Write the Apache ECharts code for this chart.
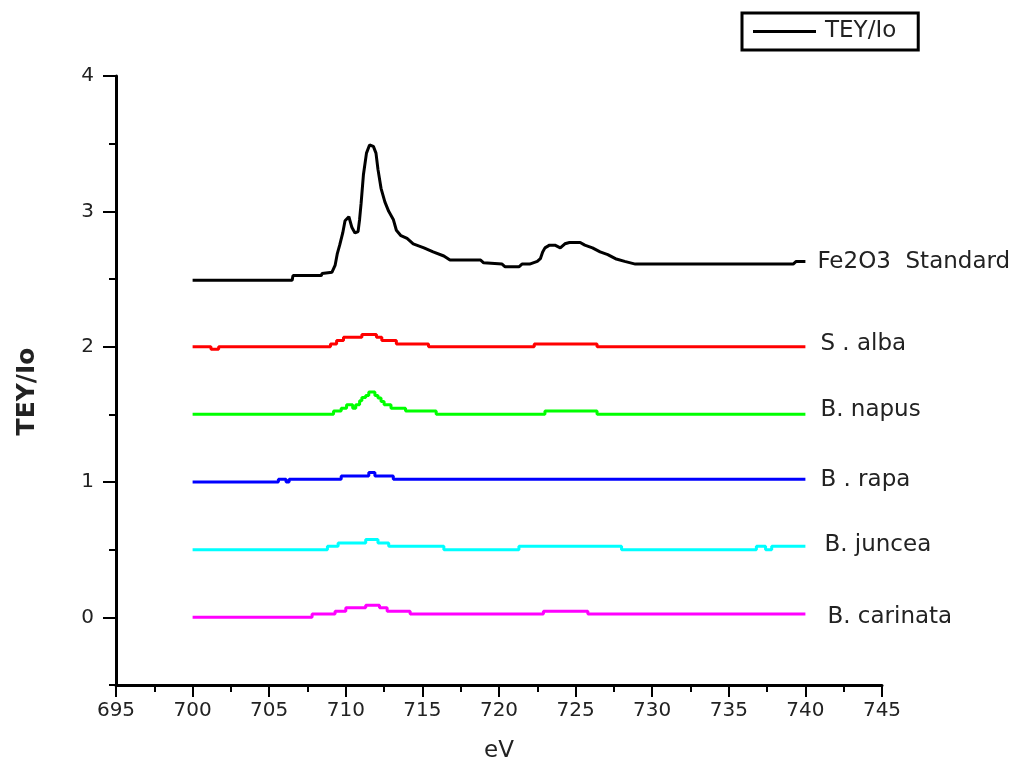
<!DOCTYPE html>
<html>
<head>
<meta charset="utf-8">
<script src="https://cdn.jsdelivr.net/npm/echarts@6/dist/echarts.min.js"></script>
<style>
  html, body { margin: 0; padding: 0; background: #fff; }
  #chart { width: 1032px; height: 768px; }
</style>
</head>
<body>
<div id="chart"></div>
<script>
// Fe L-edge TEY/Io spectra, [eV, TEY/Io]
const fe2o3 = [
  [700, 2.49], [706.5, 2.49], [706.55, 2.525], [708.4, 2.525], [708.45, 2.54], [709.1, 2.55],
  [709.3, 2.6], [709.45, 2.69], [709.6, 2.75], [709.8, 2.84], [709.95, 2.93], [710.2, 2.96],
  [710.4, 2.88], [710.6, 2.84], [710.8, 2.85], [710.9, 2.94], [711.0, 3.06], [711.15, 3.27],
  [711.35, 3.43], [711.55, 3.49], [711.8, 3.48], [711.97, 3.43], [712.1, 3.31], [712.3, 3.17],
  [712.55, 3.07], [712.8, 3.0], [713.1, 2.94], [713.3, 2.86], [713.6, 2.82], [714.0, 2.80],
  [714.4, 2.76], [715.1, 2.73], [715.7, 2.70], [716.4, 2.67], [716.8, 2.64], [718.8, 2.64],
  [719.0, 2.62], [720.2, 2.61], [720.4, 2.59], [721.3, 2.59], [721.5, 2.61], [722.0, 2.61],
  [722.5, 2.63], [722.7, 2.65], [722.85, 2.70], [723.0, 2.73], [723.3, 2.75], [723.65, 2.75],
  [724.0, 2.73], [724.3, 2.76], [724.6, 2.77], [725.3, 2.77], [725.6, 2.75], [726.1, 2.73],
  [726.6, 2.70], [727.1, 2.68], [727.6, 2.65], [728.2, 2.63], [728.9, 2.61], [739.2, 2.61],
  [739.4, 2.63], [740, 2.63]
];
const sAlba = [
  [700, 2.0], [701.2, 1.98], [701.7, 2.0], [709.0, 2.02], [709.4, 2.045], [709.85, 2.07],
  [711.05, 2.09], [712.0, 2.07], [712.35, 2.045], [713.3, 2.02], [715.4, 2.0], [722.3, 2.02],
  [726.4, 2.0], [740, 2.0]
];
const bNapus = [
  [700, 1.5], [709.2, 1.525], [709.7, 1.545], [710.05, 1.57], [710.45, 1.545], [710.65, 1.57],
  [710.9, 1.6], [711.05, 1.625], [711.3, 1.64], [711.5, 1.665], [711.9, 1.64], [712.1, 1.62],
  [712.3, 1.595], [712.5, 1.57], [712.95, 1.545], [713.9, 1.525], [715.9, 1.5], [723.0, 1.525],
  [726.4, 1.5], [740, 1.5]
];
const bRapa = [
  [700, 1.0], [705.6, 1.02], [706.1, 1.0], [706.3, 1.02], [709.7, 1.045], [711.5, 1.07],
  [711.9, 1.045], [713.1, 1.02], [740, 1.02]
];
const bJuncea = [
  [700, 0.5], [708.8, 0.525], [709.5, 0.55], [711.3, 0.575], [712.1, 0.55], [712.8, 0.525],
  [716.4, 0.5], [721.3, 0.525], [728.0, 0.5], [736.8, 0.525], [737.4, 0.5], [737.8, 0.525],
  [740, 0.525]
];
const bCarinata = [
  [700, 0.0], [707.8, 0.025], [709.3, 0.045], [710.0, 0.07], [711.3, 0.09], [712.2, 0.07],
  [712.7, 0.045], [714.2, 0.025], [722.9, 0.045], [725.8, 0.025], [740, 0.025]
];

const seriesNames = ['TEY/Io', 'S . alba', 'B. napus', 'B . rapa', 'B. juncea', 'B. carinata'];
const endLabels = ['Fe2O3  Standard', 'S . alba', 'B. napus', 'B . rapa', 'B. juncea', 'B. carinata'];
const seriesData = [fe2o3, sAlba, bNapus, bRapa, bJuncea, bCarinata];
const seriesColors = ['#000000', '#ff0000', '#00ff00', '#0000ff', '#00ffff', '#ff00ff'];
const yTickValues = [0, 1, 2, 3, 4];

const FONT = 'DejaVu Sans';
const TEXT = '#222';

// horizontal distance / vertical nudge of each end label
const labelDist = [12, 15, 15, 15, 19, 22];
const labelNudge = [1, -3, -4, 1, -1, 3];

const chart = echarts.init(document.getElementById('chart'), null, { renderer: 'canvas' });

const series = seriesData.map((d, i) => ({
  name: seriesNames[i],
  type: 'line',
  data: d,
  step: i === 0 ? false : 'end',
  symbol: 'none',
  yAxisIndex: 0,
  lineStyle: { color: seriesColors[i], width: 3 },
  itemStyle: { color: seriesColors[i] },
  endLabel: {
    show: true,
    formatter: endLabels[i],
    distance: labelDist[i],
    offset: [0, labelNudge[i]],
    color: TEXT,
    fontFamily: FONT,
    fontSize: 23
  },
  emphasis: { disabled: true }
}));

chart.setOption({
  animation: false,
  backgroundColor: '#ffffff',
  grid: { left: 116, right: 150, top: 76, bottom: 83 },
  legend: {
    data: ['TEY/Io'],
    icon: 'rect',
    left: 742,
    top: 13,
    padding: [7, 22, 7, 11],
    borderColor: '#000',
    borderWidth: 3,
    itemWidth: 63,
    itemHeight: 3,
    itemGap: 0,
    itemStyle: { color: '#000' },
    textStyle: { color: TEXT, fontFamily: FONT, fontSize: 23, padding: [0, 0, 0, 4] }
  },
  xAxis: {
    type: 'value',
    min: 695,
    max: 745,
    interval: 5,
    name: 'eV',
    nameLocation: 'middle',
    nameGap: 55,
    nameTextStyle: { color: TEXT, fontFamily: FONT, fontSize: 23 },
    axisLine: { onZero: false, lineStyle: { color: '#000', width: 3 } },
    axisTick: { show: true, inside: false, length: 12, lineStyle: { color: '#000', width: 2 } },
    minorTick: { show: true, splitNumber: 2, length: 7, lineStyle: { color: '#000', width: 2 } },
    axisLabel: { color: TEXT, fontFamily: FONT, fontSize: 20, margin: 16 },
    splitLine: { show: false }
  },
  yAxis: [
    {
      type: 'value',
      min: -0.5,
      max: 4,
      interval: 0.5,
      position: 'left',
      name: 'TEY/Io',
      nameLocation: 'middle',
      nameGap: 76,
      nameTextStyle: {
        color: TEXT, fontFamily: FONT, fontSize: 25, fontWeight: 'bold',
        padding: [0, 22, 0, 0]
      },
      axisLine: { onZero: false, lineStyle: { color: '#000', width: 3 } },
      axisTick: { show: true, inside: false, length: 7, lineStyle: { color: '#000', width: 2 } },
      axisLabel: {
        color: TEXT, fontFamily: FONT, fontSize: 20, margin: 22,
        customValues: yTickValues
      },
      splitLine: { show: false }
    },
    {
      type: 'value',
      min: -0.5,
      max: 4,
      interval: 0.5,
      position: 'left',
      axisLine: { show: false },
      axisTick: {
        show: true, inside: false, length: 13,
        customValues: yTickValues,
        lineStyle: { color: '#000', width: 2 }
      },
      axisLabel: { show: false },
      splitLine: { show: false }
    }
  ],
  series: series
});
</script>
</body>
</html>
